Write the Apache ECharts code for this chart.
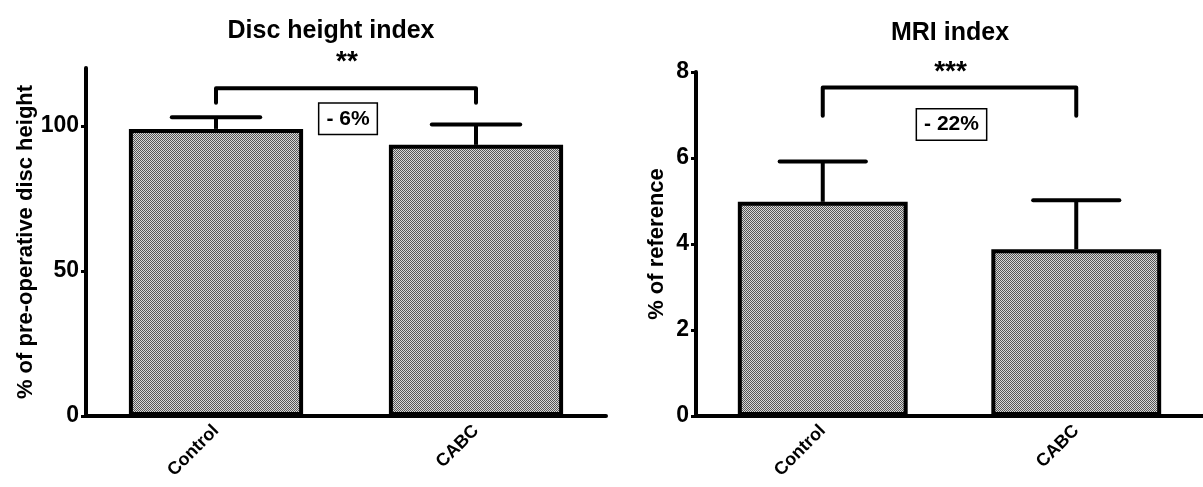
<!DOCTYPE html>
<html><head><meta charset="utf-8">
<script src="https://cdn.jsdelivr.net/npm/echarts@6/dist/echarts.min.js"></script>
<style>html,body{margin:0;padding:0;background:#fff}#c{width:1203px;height:487px}</style>
</head><body><div id="c"></div>
<script>
// ---- data ----
const categories = ['Control', 'CABC'];
const discMeans = [99, 93.5];
const discUpper = [103, 100.5];
const mriMeans = [4.98, 3.88];
const mriUpper = [5.92, 5.02];
const discTicks = [0, 50, 100];
const mriTicks = [0, 2, 4, 6, 8];
const discBracket = [113, 108];   // top, drop end
const mriBracket = [7.64, 6.98];
const discLabels = ['**', '- 6%'];
const discLabelY = [121.8, 102.5];
const mriLabels = ['***', '- 22%'];
const mriLabelY = [8.0, 6.78];

// ---- pattern ----
const pc = document.createElement('canvas');
pc.width = 2; pc.height = 2;
const px = pc.getContext('2d');
px.fillStyle = '#d8d8d8'; px.fillRect(0,0,2,2);
px.fillStyle = '#555555'; px.fillRect(0,0,1,1); px.fillRect(1,1,1,1);

const FONT = '"Liberation Sans", Arial, sans-serif';

function errRender(params, api) {
  const i = api.value(0);
  const p0 = api.coord([i, api.value(1)]);
  const p1 = api.coord([i, api.value(2)]);
  const hw = api.size([1, 0])[0] * 0.17;
  const st = {stroke: '#000', lineWidth: 4, lineCap: 'round'};
  return {type: 'group', children: [
    {type: 'line', shape: {x1: p0[0], y1: p0[1], x2: p1[0], y2: p1[1]}, style: {stroke: '#000', lineWidth: 4}},
    {type: 'line', shape: {x1: p1[0]-hw, y1: p1[1], x2: p1[0]+hw, y2: p1[1]}, style: st}
  ]};
}
function bracketRender(params, api) {
  const a = api.coord([0, api.value(2)]);
  const b = api.coord([1, api.value(2)]);
  const d = api.coord([0, api.value(3)]);
  return {type: 'polyline', shape: {points: [[a[0], d[1]], [a[0], a[1]], [b[0], b[1]], [b[0], d[1]]]},
    style: {stroke: '#000', lineWidth: 4, fill: null, lineJoin: 'round', lineCap: 'round'}};
}
function textRender(texts) {
  return function (params, api) {
    const a = api.coord([0, api.value(0)]);
    const b = api.coord([1, api.value(0)]);
    const boxed = params.dataIndex === 1;
    return {type: 'text', x: (a[0]+b[0])/2 + (boxed ? 2 : 1), y: a[1],
      style: {text: texts[params.dataIndex], fill: '#000', font: 'bold ' + (boxed ? 21 : 28) + 'px ' + FONT,
        align: 'center', verticalAlign: 'middle',
        borderColor: boxed ? '#000' : null, borderWidth: boxed ? 1.5 : 0,
        padding: boxed ? [5, 7, 4, 7] : 0, backgroundColor: boxed ? '#fff' : null}};
  };
}

function yAxis(gi, max, interval, ticks, name, gap) {
  return {type: 'value', gridIndex: gi, min: 0, max: max, interval: interval,
    name: name, nameLocation: 'middle', nameGap: gap,
    nameTextStyle: {fontFamily: FONT, fontWeight: 'bold', fontSize: 22, color: '#000'},
    axisLine: {show: true, lineStyle: {color: '#000', width: 4}},
    axisTick: {show: true, length: 5, customValues: ticks, lineStyle: {color: '#000', width: 3}},
    axisLabel: {fontFamily: FONT, fontWeight: 'bold', fontSize: 23, color: '#000', margin: 7, customValues: ticks},
    splitLine: {show: false}};
}
function xAxis(gi) {
  return {type: 'category', gridIndex: gi, data: categories,
    axisLine: {lineStyle: {color: '#000', width: 4}},
    axisTick: {alignWithLabel: true, length: 6, lineStyle: {color: '#000', width: 3}},
    axisLabel: {rotate: 45, fontFamily: FONT, fontWeight: 'bold', fontSize: 18, color: '#000', margin: 12}};
}
const barStyle = {color: {image: pc, repeat: 'repeat'}, borderColor: '#000', borderWidth: 4};

const option = {
  animation: false,
  title: [
    {text: 'Disc height index', left: 326, top: 14, textAlign: 'center',
      textStyle: {fontFamily: FONT, fontWeight: 'bold', fontSize: 25, color: '#000'}},
    {text: 'MRI index', left: 945, top: 16, textAlign: 'center',
      textStyle: {fontFamily: FONT, fontWeight: 'bold', fontSize: 25, color: '#000'}}
  ],
  grid: [
    {left: 86, top: 68, width: 520, height: 348},
    {left: 696, top: 72, width: 518, height: 344}
  ],
  xAxis: [xAxis(0), xAxis(1)],
  yAxis: [yAxis(0, 120, 50, discTicks, '% of pre-operative disc height', 48),
          yAxis(1, 8, 2, mriTicks, '% of reference', 28)],
  series: [
    {type: 'bar', xAxisIndex: 0, yAxisIndex: 0, data: discMeans, barWidth: '67%', itemStyle: barStyle, z: 2},
    {type: 'bar', xAxisIndex: 1, yAxisIndex: 1, data: mriMeans, barWidth: '67%', itemStyle: barStyle, z: 2},
    {type: 'custom', xAxisIndex: 0, yAxisIndex: 0, renderItem: errRender, z: 1,
      data: categories.map((c, i) => [i, discMeans[i], discUpper[i]])},
    {type: 'custom', xAxisIndex: 1, yAxisIndex: 1, renderItem: errRender, z: 1,
      data: categories.map((c, i) => [i, mriMeans[i], mriUpper[i]])},
    {type: 'custom', xAxisIndex: 0, yAxisIndex: 0, renderItem: bracketRender, clip: false,
      data: [[0, 1, discBracket[0], discBracket[1]]]},
    {type: 'custom', xAxisIndex: 1, yAxisIndex: 1, renderItem: bracketRender, clip: false,
      data: [[0, 1, mriBracket[0], mriBracket[1]]]},
    {type: 'custom', xAxisIndex: 0, yAxisIndex: 0, renderItem: textRender(discLabels), clip: false,
      encode: {y: 0}, data: discLabelY.map(v => [v])},
    {type: 'custom', xAxisIndex: 1, yAxisIndex: 1, renderItem: textRender(mriLabels), clip: false,
      encode: {y: 0}, data: mriLabelY.map(v => [v])}
  ]
};
const chart = echarts.init(document.getElementById('c'));
chart.setOption(option);
</script></body></html>
